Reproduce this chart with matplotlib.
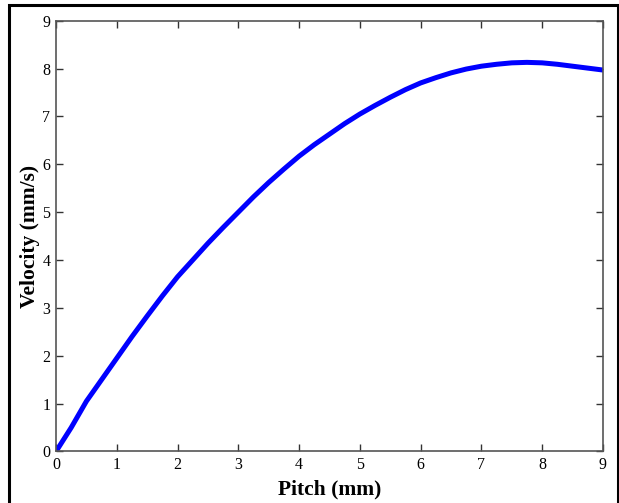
import matplotlib
matplotlib.use("Agg")
import matplotlib.pyplot as plt
from matplotlib.patches import Rectangle

pitch = [0, 0.25, 0.5, 0.75, 1, 1.25, 1.5, 1.75, 2, 2.25, 2.5, 2.75, 3, 3.25,
         3.5, 3.75, 4, 4.25, 4.5, 4.75, 5, 5.25, 5.5, 5.75, 6, 6.25, 6.5, 6.75,
         7, 7.25, 7.5, 7.75, 8, 8.25, 8.5, 8.75, 9]
velocity = [0, 0.5, 1.05, 1.5, 1.95, 2.4, 2.83, 3.25, 3.65, 4.0, 4.35, 4.68,
            5.0, 5.32, 5.62, 5.9, 6.17, 6.41, 6.63, 6.85, 7.05, 7.23, 7.40,
            7.56, 7.70, 7.81, 7.91, 7.99, 8.05, 8.09, 8.12, 8.13, 8.12, 8.09,
            8.05, 8.01, 7.97]
xticks = list(range(10))
yticks = list(range(10))

plt.rcParams['font.family'] = ['Liberation Serif', 'DejaVu Serif']

fig = plt.figure(figsize=(6.19, 5.03), dpi=100)
ax = fig.add_axes([0.0905, 0.1024, 0.8835, 0.8564])

ax.plot(pitch, velocity, color='#0000ff', lw=3.6, solid_capstyle='round')

ax.set_xlim(0, 9)
ax.set_ylim(0, 9)
ax.set_xticks(xticks)
ax.set_yticks(yticks)
ax.tick_params(direction='in', length=5, width=1, color='#333333',
               top=True, right=True, labelsize=11.5, pad=4)
for s in ax.spines.values():
    s.set_color('#555555')
    s.set_linewidth(1.2)

ax.set_xlabel('Pitch (mm)', fontsize=15.5, fontweight='bold', labelpad=4.5)
ax.set_ylabel('Velocity (mm/s)', fontsize=15.5, fontweight='bold', labelpad=2)

# page border around the figure
fig.patches.append(Rectangle((9 / 619, -0.05), 609 / 619, 0.05 + 498 / 503,
                             transform=fig.transFigure, fill=False,
                             edgecolor='black', lw=2.2))

fig.savefig('out.png', dpi=100)
